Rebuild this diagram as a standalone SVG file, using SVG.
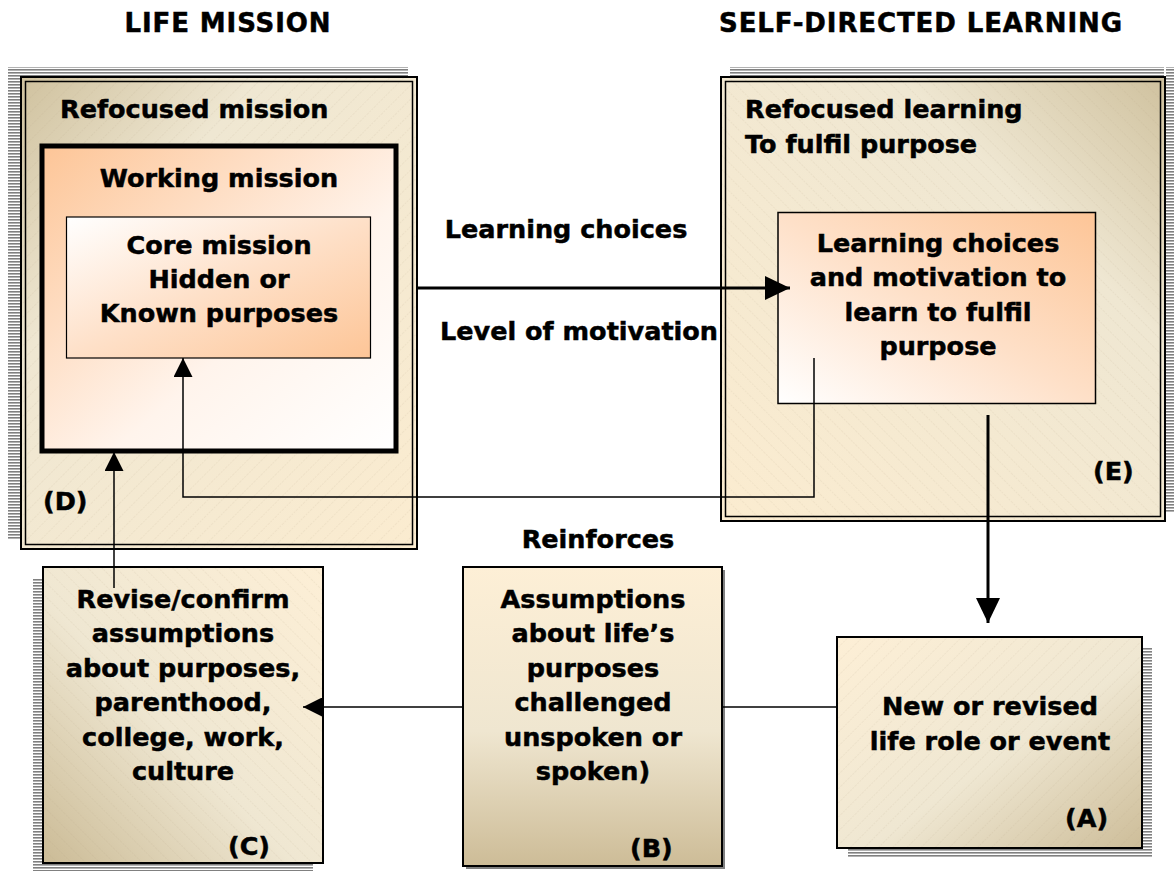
<svg xmlns="http://www.w3.org/2000/svg" width="1174" height="871" viewBox="0 0 1174 871">
<style>
text{font-family:"DejaVu Sans",Verdana,sans-serif;font-weight:bold;fill:#000;font-size:25.5px;stroke:#000;stroke-width:0.5}
.c{text-anchor:middle}
.h{font-size:26px;letter-spacing:0.9px}
.thin{fill:none;stroke:#000;stroke-width:1.5}
.box{stroke:#000;stroke-width:2}
</style>
<defs>
<pattern id="shadow" width="4" height="3" patternUnits="userSpaceOnUse"><rect width="4" height="3" fill="#ffffff"/><rect width="4" height="1.6" fill="#808080"/></pattern>
<pattern id="hatch" width="10" height="10" patternUnits="userSpaceOnUse" patternTransform="rotate(45)"><line x1="0" y1="0" x2="0" y2="10" stroke="#a89a7a" stroke-width="0.6" stroke-dasharray="2 1" opacity="0.35"/></pattern>
<pattern id="hatch2" width="10" height="10" patternUnits="userSpaceOnUse" patternTransform="rotate(-45)"><line x1="0" y1="0" x2="0" y2="10" stroke="#a89a7a" stroke-width="0.6" stroke-dasharray="2 1" opacity="0.35"/></pattern>
<linearGradient id="gD" x1="0" y1="0" x2="1" y2="1"><stop offset="0" stop-color="#cfc19e"/><stop offset="0.3" stop-color="#efe7d2"/><stop offset="1" stop-color="#fbecd0"/></linearGradient>
<linearGradient id="gE" x1="1" y1="0" x2="0" y2="1"><stop offset="0" stop-color="#cfc19e"/><stop offset="0.3" stop-color="#efe7d2"/><stop offset="1" stop-color="#fbecd0"/></linearGradient>
<linearGradient id="gW" x1="0" y1="0" x2="1" y2="1"><stop offset="0" stop-color="#fdc597"/><stop offset="0.6" stop-color="#fff4ec"/><stop offset="1" stop-color="#ffffff"/></linearGradient>
<linearGradient id="gCore" x1="0" y1="0" x2="1" y2="1"><stop offset="0" stop-color="#ffffff"/><stop offset="0.5" stop-color="#fee0c8"/><stop offset="1" stop-color="#fdc597"/></linearGradient>
<linearGradient id="gL" x1="0" y1="1" x2="1" y2="0"><stop offset="0" stop-color="#ffffff"/><stop offset="0.5" stop-color="#fee0c8"/><stop offset="1" stop-color="#fdc597"/></linearGradient>
<linearGradient id="gC" x1="0" y1="1" x2="1" y2="0"><stop offset="0" stop-color="#cbbb96"/><stop offset="0.45" stop-color="#efe7d2"/><stop offset="1" stop-color="#fdefd6"/></linearGradient>
<linearGradient id="gB" x1="0" y1="0" x2="0" y2="1"><stop offset="0" stop-color="#fdefd6"/><stop offset="0.55" stop-color="#efe6d0"/><stop offset="1" stop-color="#cdbc97"/></linearGradient>
<linearGradient id="gA" x1="0" y1="0" x2="1" y2="1"><stop offset="0" stop-color="#fdefd6"/><stop offset="0.55" stop-color="#efe7d2"/><stop offset="1" stop-color="#cdbd99"/></linearGradient>
<marker id="ah" viewBox="0 0 10 10" refX="10" refY="5" markerWidth="25" markerHeight="24" markerUnits="userSpaceOnUse" orient="auto" preserveAspectRatio="none"><path d="M0,0 L10,5 L0,10 z" fill="#000"/></marker>
<marker id="ahL" viewBox="0 0 10 10" refX="10" refY="5" markerWidth="19" markerHeight="19" markerUnits="userSpaceOnUse" orient="auto" preserveAspectRatio="none"><path d="M0,0 L10,5 L0,10 z" fill="#000"/></marker>
</defs>
<rect width="1174" height="871" fill="#ffffff"/>

<text x="228" y="32" class="c h">LIFE MISSION</text>
<text x="921" y="32" class="c h">SELF-DIRECTED LEARNING</text>

<g id="nodeD">
<rect x="8" y="67" width="400" height="9" fill="url(#shadow)"/>
<rect x="8" y="67" width="12" height="473" fill="url(#shadow)"/>
<rect x="20" y="76" width="398" height="474" fill="url(#gD)"/>
<rect x="20" y="76" width="398" height="474" fill="url(#hatch)"/>
<rect x="21" y="77" width="396" height="472" fill="none" stroke="#000" stroke-width="2"/>
<rect x="25.5" y="81.5" width="387" height="463" fill="none" stroke="#000" stroke-width="1.5"/>
<text x="60" y="118">Refocused mission</text>
<text x="43" y="510">(D)</text>
</g>

<g id="nodeWorking">
<rect x="42" y="146" width="354" height="305" fill="url(#gW)" stroke="#000" stroke-width="5"/>
<text x="219" y="187" class="c">Working mission</text>
</g>

<g id="nodeCore">
<rect x="66.5" y="217" width="304" height="141" fill="url(#gCore)" stroke="#000" stroke-width="1.2"/>
<text x="219" y="254" class="c">Core mission</text>
<text x="219" y="288" class="c">Hidden or</text>
<text x="219" y="322" class="c">Known purposes</text>
</g>

<g id="nodeE">
<rect x="730" y="67" width="434" height="9" fill="url(#shadow)"/>
<rect x="1166" y="67" width="8" height="446" fill="url(#shadow)"/>
<rect x="720" y="76" width="446" height="446" fill="url(#gE)"/>
<rect x="720" y="76" width="446" height="446" fill="url(#hatch2)"/>
<rect x="721" y="77" width="444" height="444" fill="none" stroke="#000" stroke-width="2"/>
<rect x="725.5" y="81.5" width="435" height="435" fill="none" stroke="#000" stroke-width="1.5"/>
<text x="745" y="118">Refocused learning</text>
<text x="745" y="153">To fulfil purpose</text>
<text x="1093" y="480">(E)</text>
</g>

<g id="nodeLearning">
<rect x="778" y="212.5" width="317.5" height="191" fill="url(#gL)" stroke="#000" stroke-width="1.5"/>
<text x="938" y="252" class="c">Learning choices</text>
<text x="938" y="286" class="c">and motivation to</text>
<text x="938" y="321" class="c">learn to fulfil</text>
<text x="938" y="355" class="c">purpose</text>
</g>

<g id="labels">
<text x="566" y="238" class="c">Learning choices</text>
<text x="579" y="340" class="c">Level of motivation</text>
<text x="598" y="548" class="c">Reinforces</text>
</g>

<g id="nodeC">
<rect x="33" y="578" width="10" height="292" fill="url(#shadow)"/>
<rect x="33" y="863" width="280" height="8" fill="url(#shadow)"/>
<rect x="43" y="567" width="280" height="296" fill="url(#gC)"/>
<rect x="43" y="567" width="280" height="296" fill="url(#hatch2)" class="box"/>
<text x="183" y="608" class="c">Revise/confirm</text>
<text x="183" y="642" class="c">assumptions</text>
<text x="183" y="677" class="c">about purposes,</text>
<text x="183" y="711" class="c">parenthood,</text>
<text x="183" y="746" class="c">college, work,</text>
<text x="183" y="780" class="c">culture</text>
<text x="228" y="855">(C)</text>
</g>

<g id="nodeB">
<rect x="466" y="570" width="259" height="299" fill="#808080"/>
<rect x="463" y="567" width="259" height="299" fill="url(#gB)" class="box"/>
<text x="593" y="608" class="c">Assumptions</text>
<text x="593" y="642" class="c">about life’s</text>
<text x="593" y="677" class="c">purposes</text>
<text x="593" y="711" class="c">challenged</text>
<text x="593" y="746" class="c">unspoken or</text>
<text x="593" y="780" class="c">spoken)</text>
<text x="630" y="857">(B)</text>
</g>

<g id="nodeA">
<rect x="1142" y="647" width="10" height="211" fill="url(#shadow)"/>
<rect x="848" y="848" width="304" height="10" fill="url(#shadow)"/>
<rect x="837" y="637" width="305" height="211" fill="url(#gA)"/>
<rect x="837" y="637" width="305" height="211" fill="url(#hatch)" class="box"/>
<text x="990" y="715" class="c">New or revised</text>
<text x="990" y="750" class="c">life role or event</text>
<text x="1065" y="827">(A)</text>
</g>

<g id="connectors">
<line x1="418" y1="288" x2="790" y2="288" stroke="#000" stroke-width="3" marker-end="url(#ah)"/>
<polyline points="814,358 814,497 183,497 183,358" class="thin" marker-end="url(#ahL)"/>
<line x1="114" y1="588" x2="114" y2="452" class="thin" marker-end="url(#ahL)"/>
<line x1="988" y1="415" x2="988" y2="623" stroke="#000" stroke-width="3" marker-end="url(#ah)"/>
<line x1="837" y1="707" x2="722" y2="707" class="thin"/>
<line x1="463" y1="707" x2="303" y2="707" class="thin" marker-end="url(#ahL)"/>
</g>
</svg>
